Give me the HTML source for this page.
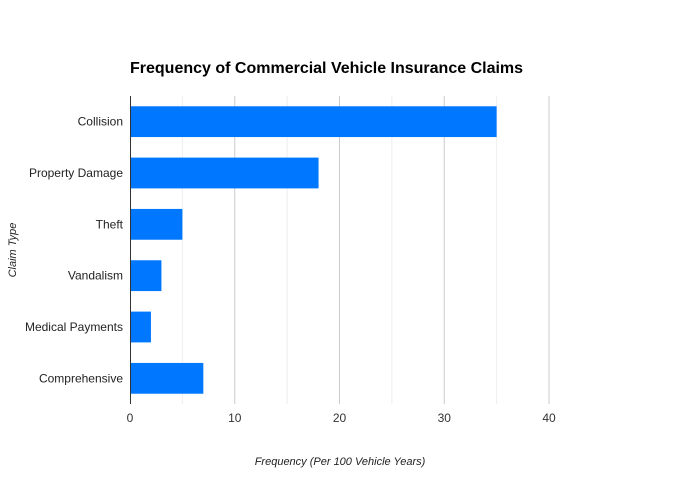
<!DOCTYPE html>
<html><head><meta charset="utf-8"><style>
body{margin:0;background:#fff;font-family:"Liberation Sans",Arial,sans-serif}
svg{display:block}
</style></head><body>
<svg id="chart" width="680" height="500">
<text x="130" y="73" font-size="16" font-weight="bold" fill="#000">Frequency of Commercial Vehicle Insurance Claims</text>
<g id="grid"></g><g id="bars"></g><g id="ylabels"></g><g id="xticks"></g>
<line x1="130.5" y1="96" x2="130.5" y2="404" stroke="#333" stroke-width="1"/>
<text x="340" y="465" font-size="11" font-style="italic" text-anchor="middle" fill="#222">Frequency (Per 100 Vehicle Years)</text>
<text x="16" y="250" font-size="11" font-style="italic" text-anchor="middle" fill="#222" transform="rotate(-90 16 250)">Claim Type</text>
</svg>
<script>
const categories=["Collision","Property Damage","Theft","Vandalism","Medical Payments","Comprehensive"];
const values=[35,18,5,3,2,7];
const xTicks=[0,10,20,30,40];
const minorTicks=[5,15,25,35];
const NS="http://www.w3.org/2000/svg";
const x0=130,x1=549,plotTop=96,plotBottom=404;
const xs=v=>x0+(v/40)*(x1-x0);
const band=(plotBottom-plotTop)/categories.length;
const yb=i=>plotTop+i*band;
function mk(t,a,p){const e=document.createElementNS(NS,t);for(const k in a)e.setAttribute(k,a[k]);p.appendChild(e);return e;}
const grid=document.getElementById('grid');
minorTicks.forEach(v=>{const l=mk('line',{x1:xs(v),x2:xs(v),y1:plotTop,y2:plotBottom,stroke:'#eee'},grid);

});
xTicks.forEach(v=>{if(v===0)return;const l=mk('line',{x1:xs(v),x2:xs(v),y1:plotTop,y2:plotBottom,stroke:'#ccc'},grid);

});
const xt=document.getElementById('xticks');
xTicks.forEach(v=>{const t=mk('text',{x:xs(v),y:422,'font-size':12,'text-anchor':'middle',fill:'#333'},xt);t.textContent=v;

});
const bars=document.getElementById('bars'),yl=document.getElementById('ylabels');
categories.forEach((c,i)=>{
const h=band*0.6;
const r=mk('rect',{x:x0,y:yb(i)+(band-h)/2,width:xs(values[i])-x0,height:h,fill:'#0077ff'},bars);


const t=mk('text',{x:123,y:yb(i)+band/2+4,'font-size':12,'text-anchor':'end',fill:'#222'},yl);t.textContent=c;


});
</script>
</body></html>
